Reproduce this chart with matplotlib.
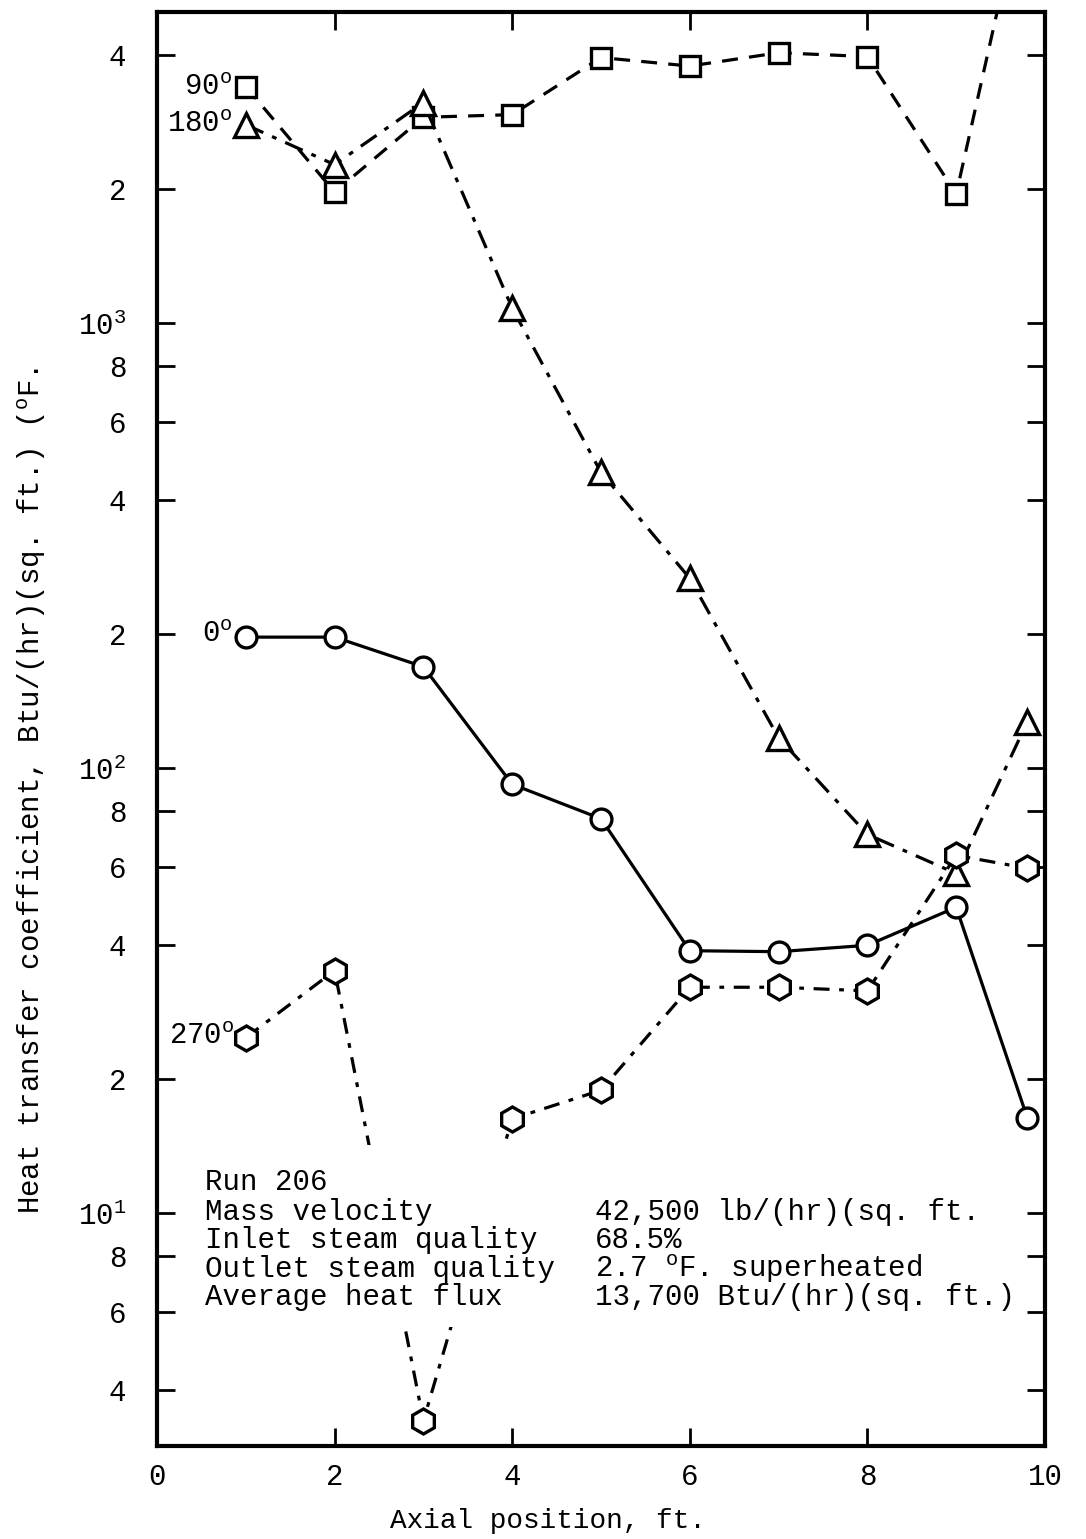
import matplotlib
matplotlib.use('Agg')
import matplotlib.pyplot as plt
from matplotlib.patches import Rectangle

plt.rcParams['font.family'] = ['Liberation Mono', 'DejaVu Sans Mono']
plt.rcParams['mathtext.fontset'] = 'custom'
plt.rcParams['mathtext.rm'] = 'Liberation Mono'
plt.rcParams['mathtext.default'] = 'regular'

# axial position, ft.
x = [1, 2, 3, 4, 5, 6, 7, 8, 9, 9.8]

# heat transfer coefficient at each angular position
h_90 = [3400, 1970, 2900, 2940, 3950, 3780, 4050, 3970, 1950, 10000]
h_180 = [2790, 2270, 3130, 1080, 462, 267, 117, 71, 58, 127]
h_0 = [197, 197, 169, 92, 77, 38.9, 38.7, 40, 48.7, 16.4]
h_270 = [24.8, 35.1, 3.42, 16.3, 18.9, 32.2, 32.2, 31.6, 63.7, 59.6]

yticks = [4, 6, 8, 10, 20, 40, 60, 80, 100, 200, 400, 600, 800, 1000, 2000, 4000]
ylabels = ['4', '6', '8', '$10^1$', '2', '4', '6', '8', '$10^2$', '2', '4', '6', '8',
           '$10^3$', '2', '4']
xticks = [0, 2, 4, 6, 8, 10]

info_keys = ['Run 206', 'Mass velocity', 'Inlet steam quality',
             'Outlet steam quality', 'Average heat flux']
info_vals = ['', '42,500 lb/(hr)(sq. ft.', '68.5%',
             '2.7 $^o$F. superheated', '13,700 Btu/(hr)(sq. ft.)']

fig = plt.figure(figsize=(10.86, 15.39), dpi=100)
ax = fig.add_axes([157/1086, 1 - 1446/1539, 888/1086, 1434/1539])

lw = 2.3
mk = dict(markerfacecolor='white', markeredgecolor='black', markeredgewidth=2.4,
          color='black', lw=lw, zorder=2)
ax.plot(x, h_90, marker='s', markersize=15, linestyle=(0, (5, 3.5)), **mk)
ax.plot(x, h_180, marker='^', markersize=17, linestyle=(0, (6, 3, 1.5, 3)), **mk)
ax.plot(x, h_0, marker='o', markersize=15, linestyle='-', **mk)
ax.plot(x, h_270, marker='h', markersize=18, linestyle=(0, (5, 3, 1.5, 3)), **mk)

ax.set_yscale('log')
ax.set_ylim(3, 5000)
ax.set_xlim(0, 10)
ax.set_yticks(yticks)
ax.set_yticklabels(ylabels)
ax.yaxis.set_minor_locator(matplotlib.ticker.NullLocator())
ax.set_xticks(xticks)
ax.set_xticklabels([str(v) for v in xticks])

ax.tick_params(axis='both', which='major', direction='in', length=13, width=2,
               top=True, right=True)
ax.tick_params(axis='y', labelsize=21, pad=22)
ax.tick_params(axis='x', labelsize=21, pad=12)
for s in ax.spines.values():
    s.set_linewidth(3)

ax.set_xlabel('Axial position, ft.', fontsize=20)
ax.xaxis.set_label_coords((548 - 157) / 888, -0.043)
ax.set_ylabel(r'Heat transfer coefficient, Btu/(hr)(sq. ft.) ($^o$F.', fontsize=21)
ax.yaxis.set_label_coords((48 - 157) / 888, (1446 - 790) / 1434)

# angle labels
for xt, yt, s in [(0.85, 3400, '90$^o$'), (0.85, 2800, '180$^o$'),
                  (0.85, 200, '0$^o$'), (0.87, 25, '270$^o$')]:
    ax.text(xt, yt, s, ha='right', va='center', fontsize=21, zorder=4)

# white panel for the run information
ax.add_patch(Rectangle((0.043, 0.083), 0.934, 0.127, transform=ax.transAxes,
                       facecolor='white', edgecolor='none', zorder=3))
rows = [0.1785, 0.1576, 0.1381, 0.1179, 0.0983]
for yr, k, v in zip(rows, info_keys, info_vals):
    ax.text(0.054, yr, k, transform=ax.transAxes, fontsize=21, va='baseline', zorder=4)
    ax.text(0.493, yr, v, transform=ax.transAxes, fontsize=21, va='baseline', zorder=4)

fig.savefig('out.png', dpi=100)
